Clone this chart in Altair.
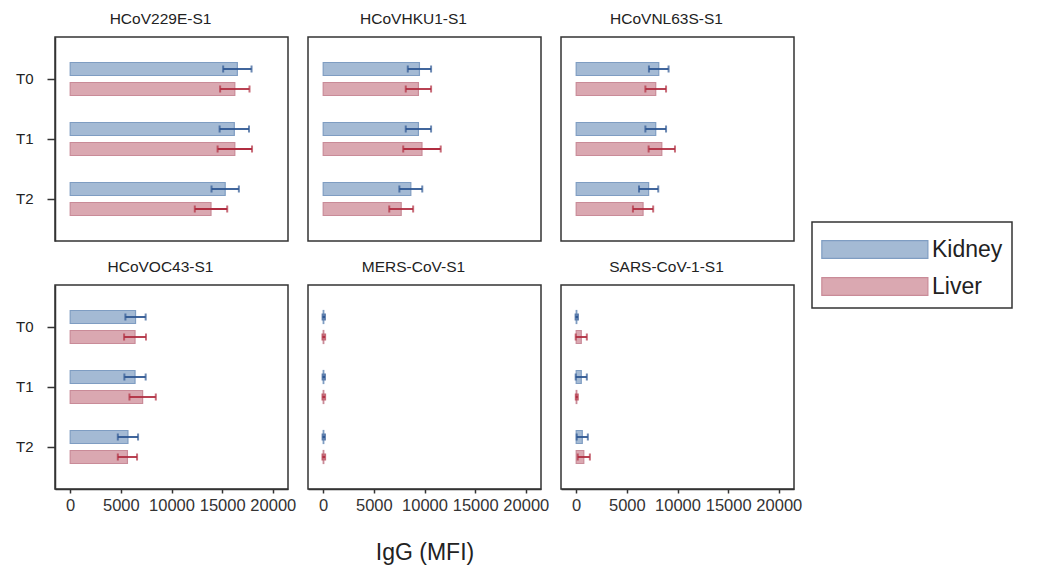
import altair as alt
import pandas as pd

viruses = ["HCoV229E-S1", "HCoVHKU1-S1", "HCoVNL63S-S1",
           "HCoVOC43-S1", "MERS-CoV-S1", "SARS-CoV-1-S1"]
times = ["T0", "T1", "T2"]
tissues = ["Kidney", "Liver"]

# mean IgG (MFI) per virus, for T0, T1, T2
kidney_mean = [
    [16500, 16200, 15300],
    [9500, 9400, 8650],
    [8150, 7850, 7150],
    [6450, 6400, 5700],
    [60, 60, 60],
    [60, 500, 600],
]
kidney_err = [
    [1400, 1450, 1350],
    [1150, 1250, 1130],
    [970, 1020, 950],
    [1000, 1050, 1000],
    [120, 120, 120],
    [120, 550, 550],
]
liver_mean = [
    [16250, 16250, 13900],
    [9400, 9750, 7700],
    [7850, 8450, 6600],
    [6400, 7150, 5650],
    [60, 60, 60],
    [500, 60, 750],
]
liver_err = [
    [1450, 1700, 1600],
    [1250, 1850, 1180],
    [1020, 1300, 1000],
    [1080, 1300, 950],
    [130, 130, 130],
    [550, 100, 600],
]

fill_colors = ["#a4bad4", "#daa8b1"]
stroke_colors = ["#7f9dc2", "#c98b98"]
err_colors = ["#2c5591", "#b02d40"]

rows = []
for vi, v in enumerate(viruses):
    for ti, t in enumerate(times):
        rows.append(dict(virus=v, time=t, tissue="Kidney",
                         value=kidney_mean[vi][ti], err=kidney_err[vi][ti]))
        rows.append(dict(virus=v, time=t, tissue="Liver",
                         value=liver_mean[vi][ti], err=liver_err[vi][ti]))
df = pd.DataFrame(rows)

FONT = "Liberation Sans"
W, H = 233, 204

def panel(v, idx):
    col = idx % 3
    row = idx // 3
    yaxis = alt.Axis(title=None, labelFontSize=15, labelFont=FONT,
                     labelColor="#222", tickSize=8, tickWidth=1.5,
                     tickColor="#333", labelPadding=14, domainColor="#333",
                     domainWidth=1.5) if col == 0 else None
    if row == 1:
        xaxis = alt.Axis(title="IgG (MFI)" if col == 1 else None,
                         titleFontSize=23, titleFont=FONT, titleFontWeight="normal",
                         titleColor="#222", titlePadding=28,
                         values=[0, 5000, 10000, 15000, 20000], format="d",
                         labelFontSize=16.5, labelFont=FONT, labelColor="#333",
                         tickSize=4, tickColor="#333", tickWidth=1.5,
                         domainColor="#333", domainWidth=1.5, grid=False,
                         labelPadding=4, labelFlush=False)
    else:
        xaxis = None
    xs = alt.Scale(domain=[-1500, 21500], nice=False, zero=False)
    ys = alt.Scale(domain=times, paddingInner=0, paddingOuter=0.2)
    yo = alt.YOffset("tissue:N", scale=alt.Scale(domain=tissues,
                                                 paddingInner=0.35,
                                                 paddingOuter=0.675))
    y = alt.Y("time:N", scale=ys, axis=yaxis)
    base = alt.Chart().transform_filter(alt.datum.virus == v)
    bars = base.mark_bar(strokeWidth=1.2).encode(
        x=alt.X("value:Q", scale=xs, axis=xaxis),
        x2=alt.datum(0),
        y=y, yOffset=yo,
        fill=alt.Fill("tissue:N", scale=alt.Scale(domain=tissues, range=fill_colors),
                      legend=alt.Legend(title=None)),
        stroke=alt.Stroke("tissue:N", scale=alt.Scale(domain=tissues, range=stroke_colors),
                          legend=alt.Legend(title=None)),
    )
    ecol = alt.Color("tissue:N", scale=alt.Scale(domain=tissues, range=err_colors),
                     legend=None)
    eb = base.transform_calculate(lo="datum.value - datum.err",
                                  hi="datum.value + datum.err")
    rule = eb.mark_rule(strokeWidth=1.8).encode(
        x=alt.X("lo:Q", scale=xs, axis=xaxis), x2="hi:Q",
        y=y, yOffset=yo, color=ecol)
    cap_lo = eb.mark_tick(thickness=2, size=7).encode(
        x=alt.X("lo:Q", scale=xs, axis=xaxis), y=y, yOffset=yo, color=ecol)
    cap_hi = eb.mark_tick(thickness=2, size=7).encode(
        x=alt.X("hi:Q", scale=xs, axis=xaxis), y=y, yOffset=yo, color=ecol)
    return alt.layer(bars, rule, cap_lo, cap_hi).properties(
        width=W, height=H,
        title=alt.TitleParams(v, fontSize=15.5, font=FONT, fontWeight="normal",
                              color="#222", offset=10, dx=-11, anchor="middle"),
    )

panels = [panel(v, i) for i, v in enumerate(viruses)]
row1 = alt.hconcat(*panels[:3], spacing=20, bounds="flush")
row2 = alt.hconcat(*panels[3:], spacing=20, bounds="flush")

chart = alt.vconcat(row1, row2, spacing=16, data=df).resolve_scale(
    color="independent"
).properties(
    padding={"left": 6, "top": 2, "right": 5, "bottom": 5},
).configure_view(
    stroke="#333", strokeWidth=1.5
).configure_legend(
    orient="none", legendX=757, legendY=185,
    strokeColor="#333", strokeWidth=1.5, padding=9,
    symbolType="M-1,-0.5H5V0.5H-1Z", symbolSize=1250,
    symbolStrokeWidth=1.2, labelFontSize=23, labelFont=FONT,
    labelColor="#222", labelOffset=74, rowPadding=6,
    cornerRadius=0,
)

chart.save("out.html", embed_options={"renderer": "svg", "actions": False})
